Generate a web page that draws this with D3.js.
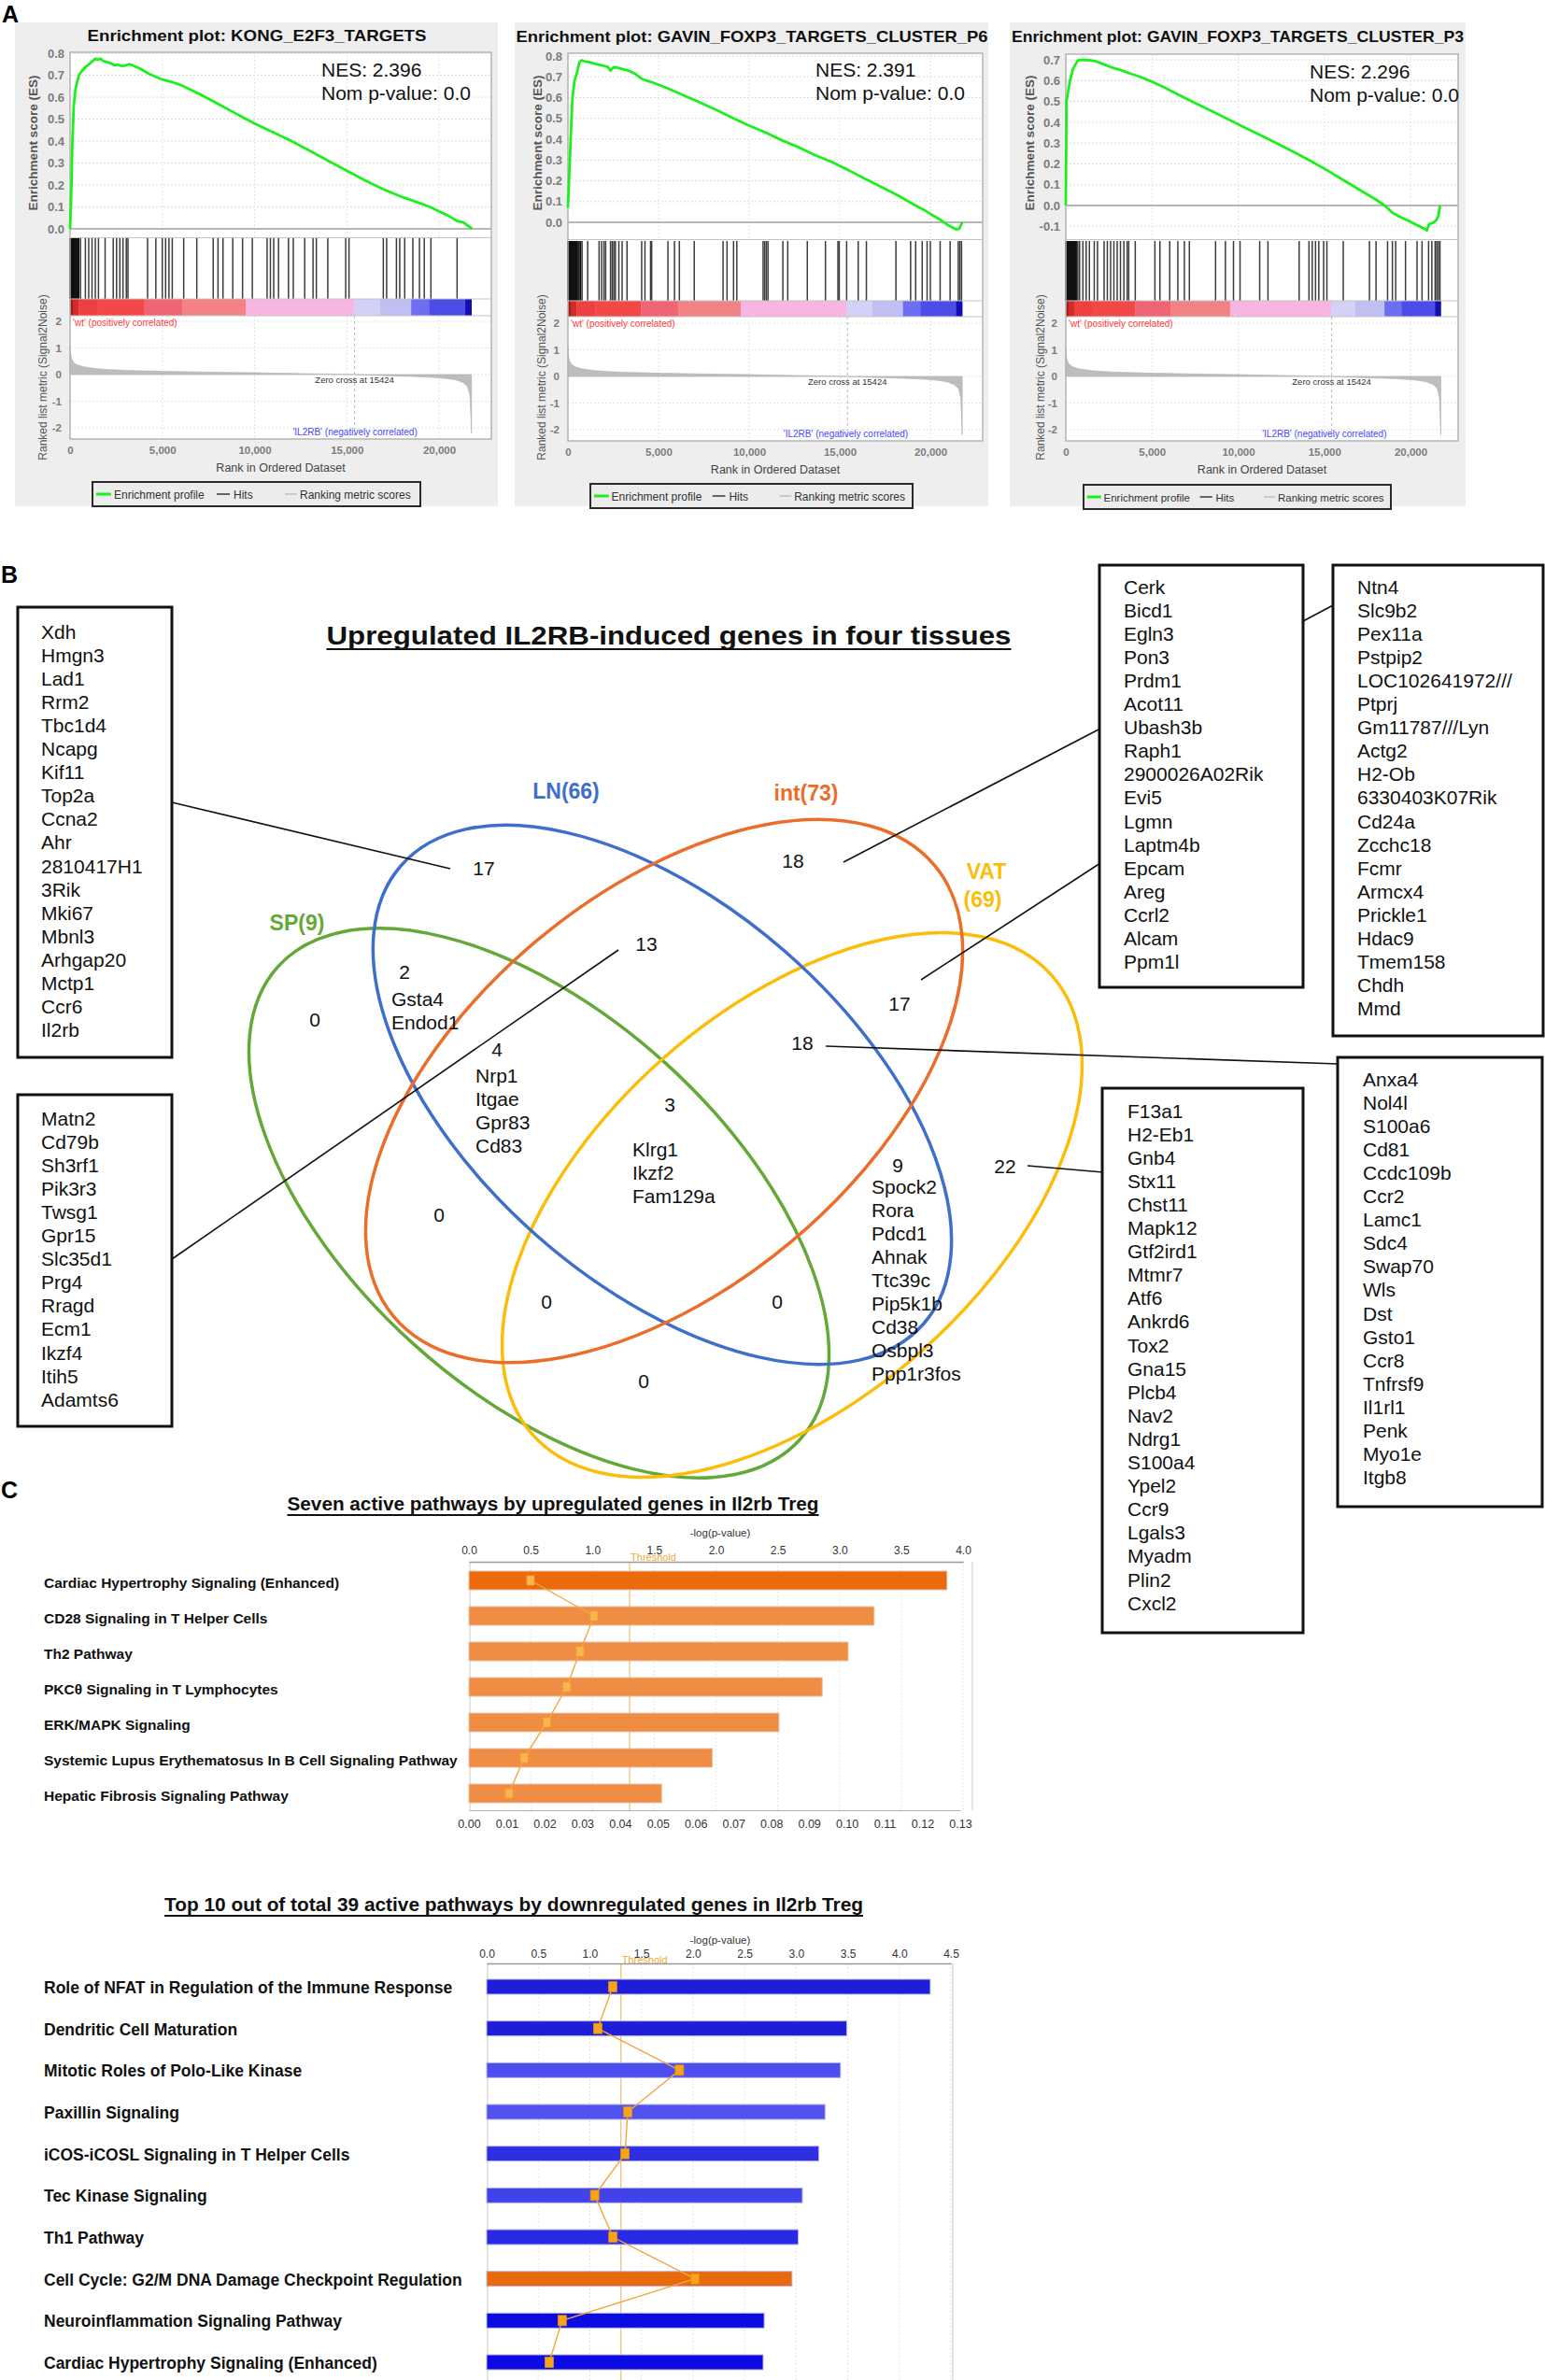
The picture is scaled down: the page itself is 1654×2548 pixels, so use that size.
<!DOCTYPE html>
<html><head><meta charset="utf-8"><title>IL2RB Treg figure</title>
<script src="https://cdn.jsdelivr.net/npm/d3@7/dist/d3.min.js"></script>
<style>
html,body{margin:0;padding:0;background:#fff;}
svg{display:block;}
</style></head><body>
<svg id="fig" width="1654" height="2548" viewBox="0 0 1654 2548"></svg>
<script>
// ======================= DATA =======================
// ---- Panel A: GSEA ----
const gseaSets = ["KONG_E2F3_TARGETS", "GAVIN_FOXP3_TARGETS_CLUSTER_P6", "GAVIN_FOXP3_TARGETS_CLUSTER_P3"];
const gseaNES = ["2.396", "2.391", "2.296"];
const gseaNomP = ["0.0", "0.0", "0.0"];
const esTicksKONG = [0, 0.1, 0.2, 0.3, 0.4, 0.5, 0.6, 0.7, 0.8];
const esTicksP6 = [0, 0.1, 0.2, 0.3, 0.4, 0.5, 0.6, 0.7, 0.8];
const esTicksP3 = [-0.1, 0, 0.1, 0.2, 0.3, 0.4, 0.5, 0.6, 0.7];
const rankTicks = [0, 5000, 10000, 15000, 20000];
const metricTicks = [2, 1, 0, -1, -2];
const zeroCross = 15424;
const esCurveKONG = [[0,0],[30,0.08],[80,0.2],[120,0.38],[200,0.56],[300,0.64],[480,0.70],[650,0.72],[830,0.737],[1100,0.755],[1370,0.775],[1500,0.77],[1650,0.775],[1800,0.765],[2000,0.76],[2200,0.755],[2400,0.745],[2600,0.748],[2800,0.742],[3000,0.744],[3200,0.75],[3400,0.745],[3800,0.73],[4300,0.705],[5000,0.68],[5500,0.67],[6000,0.655],[6500,0.635],[7000,0.615],[8000,0.57],[9000,0.525],[10000,0.48],[11000,0.44],[12000,0.40],[13000,0.355],[14000,0.31],[15000,0.265],[16000,0.22],[17000,0.18],[18000,0.145],[18700,0.125],[19500,0.10],[20000,0.08],[20500,0.06],[21000,0.035],[21300,0.03],[21800,0.0]];
const esCurveP6 = [[0,0.07],[60,0.2],[150,0.4],[250,0.6],[360,0.68],[500,0.72],[630,0.77],[750,0.78],[900,0.775],[1200,0.77],[1500,0.762],[1900,0.755],[2200,0.748],[2350,0.73],[2500,0.745],[2700,0.745],[3000,0.738],[3350,0.73],[3700,0.715],[4070,0.69],[4600,0.675],[5500,0.645],[6400,0.61],[7330,0.575],[8200,0.54],[9140,0.5],[10000,0.465],[10950,0.43],[11800,0.395],[12760,0.36],[13600,0.325],[14570,0.29],[15500,0.25],[16380,0.21],[17300,0.17],[18190,0.13],[19000,0.09],[19640,0.06],[20200,0.03],[20600,0.01],[21000,-0.015],[21270,-0.027],[21450,-0.035],[21600,-0.03],[21650,-0.02],[21770,0.0]];
const esCurveP3 = [[0,0],[40,0.5],[230,0.595],[420,0.657],[700,0.697],[1000,0.70],[1460,0.697],[1840,0.69],[2200,0.678],[2600,0.665],[3200,0.65],[3745,0.634],[4320,0.618],[5000,0.595],[5650,0.57],[6600,0.53],[7550,0.49],[8500,0.452],[9450,0.413],[10400,0.374],[11350,0.335],[12300,0.296],[13250,0.256],[14200,0.214],[15150,0.17],[16100,0.122],[17050,0.075],[18000,0.028],[18500,0.0],[18950,-0.035],[19400,-0.055],[19900,-0.074],[20400,-0.095],[20850,-0.113],[20950,-0.12],[21080,-0.09],[21330,-0.082],[21500,-0.07],[21620,-0.05],[21710,0.0]];
const hitsKONG = [0,15,30,45,60,80,100,120,140,165,190,215,245,275,310,350,390,430,470,570,830,1010,1190,1370,1540,1900,2340,2520,2700,2870,3050,3140,4200,4650,5000,5180,5360,5540,6160,6870,7760,8020,8290,8820,9350,9880,10680,10860,11040,11300,11840,12100,12720,13170,13350,13970,14940,15120,16980,17160,17690,17870,18140,18580,18940,19200,19560,20980];
const hitsP6 = [0,20,40,60,80,105,130,160,190,220,260,300,340,390,440,500,560,620,700,780,1090,1720,1860,1990,2080,2350,2440,2530,2620,2810,2990,3260,4070,4250,4560,4620,5520,5880,6150,6970,8560,8780,9140,9320,10770,10860,10950,11040,11860,12130,13210,14210,14900,14970,15380,16020,16470,18100,18910,19190,19550,19820,20000,20540,21090,21540,21630,21720];
const hitsP3 = [0,20,40,60,80,100,125,150,180,210,240,280,320,360,410,460,520,580,640,700,800,990,1180,1370,1650,1840,2220,2410,2600,2790,2980,3170,3370,3560,3650,4030,5170,5460,6030,6500,6880,7170,8690,9260,9730,10110,11250,11730,13540,14110,14300,14490,14680,14960,15150,16100,17620,18000,18670,18950,19140,19710,20380,20670,21050,21240,21430,21520,21620,21710];
const rankedMetric = [[0,1.1],[30,0.8],[80,0.6],[200,0.45],[400,0.36],[700,0.3],[1000,0.26],[1500,0.22],[2000,0.19],[3000,0.16],[4000,0.14],[5000,0.12],[6000,0.11],[7000,0.1],[8000,0.09],[9000,0.08],[10000,0.07],[11000,0.055],[12000,0.045],[13000,0.03],[14000,0.02],[15424,0],[16500,-0.03],[17500,-0.05],[18500,-0.07],[19500,-0.1],[20300,-0.14],[20900,-0.2],[21300,-0.3],[21550,-0.45],[21680,-0.8],[21720,-1.5],[21760,-2.2],[21760,0]];
const rankBandEdges = [0,150,480,1500,4030,6070,9530,15390,16800,18490,19470,21420,21760];
const legendItems = ["Enrichment profile", "Hits", "Ranking metric scores"];

// ---- Panel B: Venn ----
const vennTitle = "Upregulated IL2RB-induced genes in four tissues";
const vennSets = ["LN(66)", "int(73)", "VAT", "(69)", "SP(9)"];
const vennCounts = [17, 18, 13, 2, 0, 4, 3, 17, 18, 9, 22, 0, 0, 0, 0];
const vennRegionGenes = [[], [], [], ["Gsta4","Endod1"], [], ["Nrp1","Itgae","Gpr83","Cd83"], ["Klrg1","Ikzf2","Fam129a"], [], [], ["Spock2","Rora","Pdcd1","Ahnak","Ttc39c","Pip5k1b","Cd38","Osbpl3","Ppp1r3fos"], [], [], [], [], []];
const genesLN17 = ["Xdh","Hmgn3","Lad1","Rrm2","Tbc1d4","Ncapg","Kif11","Top2a","Ccna2","Ahr","2810417H1","3Rik","Mki67","Mbnl3","Arhgap20","Mctp1","Ccr6","Il2rb"];
const genesLNint13 = ["Matn2","Cd79b","Sh3rf1","Pik3r3","Twsg1","Gpr15","Slc35d1","Prg4","Rragd","Ecm1","Ikzf4","Itih5","Adamts6"];
const genesInt18 = ["Cerk","Bicd1","Egln3","Pon3","Prdm1","Acot11","Ubash3b","Raph1","2900026A02Rik","Evi5","Lgmn","Laptm4b","Epcam","Areg","Ccrl2","Alcam","Ppm1l"];
const genesIntVat17 = ["Ntn4","Slc9b2","Pex11a","Pstpip2","LOC102641972///","Ptprj","Gm11787///Lyn","Actg2","H2-Ob","6330403K07Rik","Cd24a","Zcchc18","Fcmr","Armcx4","Prickle1","Hdac9","Tmem158","Chdh","Mmd"];
const genesLnIntVat18 = ["Anxa4","Nol4l","S100a6","Cd81","Ccdc109b","Ccr2","Lamc1","Sdc4","Swap70","Wls","Dst","Gsto1","Ccr8","Tnfrsf9","Il1rl1","Penk","Myo1e","Itgb8"];
const genesVat22 = ["F13a1","H2-Eb1","Gnb4","Stx11","Chst11","Mapk12","Gtf2ird1","Mtmr7","Atf6","Ankrd6","Tox2","Gna15","Plcb4","Nav2","Ndrg1","S100a4","Ypel2","Ccr9","Lgals3","Myadm","Plin2","Cxcl2"];

// ---- Panel C: pathways ----
const upTitle = "Seven active pathways by upregulated genes in Il2rb Treg";
const upPathways = ["Cardiac Hypertrophy Signaling (Enhanced)","CD28 Signaling in T Helper Cells","Th2 Pathway","PKCθ Signaling in T Lymphocytes","ERK/MAPK Signaling","Systemic Lupus Erythematosus In B Cell Signaling Pathway","Hepatic Fibrosis Signaling Pathway"];
const upLogP = [3.87, 3.28, 3.07, 2.86, 2.51, 1.97, 1.56];
const upRatio = [0.0163, 0.0331, 0.0294, 0.0259, 0.0206, 0.0146, 0.0106];
const upLogTicks = [0, 0.5, 1, 1.5, 2, 2.5, 3, 3.5, 4];
const upRatioTicks = [0, 0.01, 0.02, 0.03, 0.04, 0.05, 0.06, 0.07, 0.08, 0.09, 0.10, 0.11, 0.12, 0.13];
const downTitle = "Top 10 out of total 39 active pathways by downregulated genes in Il2rb Treg";
const downPathways = ["Role of NFAT in Regulation of the Immune Response","Dendritic Cell Maturation","Mitotic Roles of Polo-Like Kinase","Paxillin Signaling","iCOS-iCOSL Signaling in T Helper Cells","Tec Kinase Signaling","Th1 Pathway","Cell Cycle: G2/M DNA Damage Checkpoint Regulation","Neuroinflammation Signaling Pathway","Cardiac Hypertrophy Signaling (Enhanced)"];
const downLogP = [4.30, 3.49, 3.43, 3.28, 3.22, 3.06, 3.02, 2.96, 2.69, 2.68];
const downRatio = [0.0407, 0.0359, 0.0623, 0.0456, 0.0447, 0.0349, 0.0408, 0.0673, 0.0244, 0.0202];
const downLogTicks = [0, 0.5, 1, 1.5, 2, 2.5, 3, 3.5, 4, 4.5];
const threshold = 1.301;

// ======================= LAYOUT / STYLE =======================
const FONT = "'Liberation Sans', Arial, Helvetica, sans-serif";
const svg = d3.select("#fig").attr("font-family", FONT);
svg.append("rect").attr("width", 1654).attr("height", 2548).attr("fill", "#fff");

const bandColors = ["#a51a1a","#d42a2a","#ee4040","#f24848","#f06474","#f38284","#f7b6e2","#d2d2f8","#c0bff4","#6e6ef2","#4c4ce6","#1010b0"];
const esCurves = [esCurveKONG, esCurveP6, esCurveP3];
const esTicksAll = [esTicksKONG, esTicksP6, esTicksP3];
const hitsAll = [hitsKONG, hitsP6, hitsP3];
const gseaLayout = [
  {bx:16,bw:517,L:75,x20:470,R:526,top:56,es0:245,refV:0.8,refY:57,esBot:254,hitTop:255,hitBot:320,barBot:338,mHi:344,mLo:458,bot:470,titleX:275,titleY:44,titleW:363,nesX:344,nesY:82,yt1X:35,yt2X:46,legX:99,legW:351,legY:516},
  {bx:551,bw:507,L:608,x20:996,R:1052,top:57,es0:238,refV:0.8,refY:60,esBot:256,hitTop:258,hitBot:322,barBot:339,mHi:346,mLo:460,bot:472,titleX:805,titleY:45,titleW:505,nesX:873,nesY:82,yt1X:575,yt2X:580,legX:632,legW:345,legY:518},
  {bx:1081,bw:488,L:1141,x20:1510,R:1561,top:58,es0:220,refV:0.7,refY:64,esBot:256,hitTop:258,hitBot:322,barBot:339,mHi:346,mLo:460,bot:472,titleX:1325,titleY:45,titleW:484,nesX:1402,nesY:84,yt1X:1102,yt2X:1114,legX:1160,legW:329,legY:519}
];

function styleAxis(sel, fs, fw, fill) {
  sel.attr("font-family", FONT).attr("font-size", fs);
  sel.select(".domain").remove();
  sel.selectAll("line").remove();
  sel.selectAll("text").attr("fill", fill).attr("font-weight", fw);
}

function drawGsea(i) {
  const P = gseaLayout[i];
  const g = svg.append("g");
  g.append("rect").attr("x", P.bx).attr("y", 24).attr("width", P.bw).attr("height", 518).attr("fill", "#eeeeee");
  g.append("text").attr("x", P.titleX).attr("y", P.titleY).attr("text-anchor", "middle")
    .attr("font-size", 17).attr("font-weight", "bold").attr("fill", "#111")
    .attr("textLength", P.titleW).attr("lengthAdjust", "spacingAndGlyphs")
    .text("Enrichment plot: " + gseaSets[i]);

  const x = d3.scaleLinear().domain([0, 20000]).range([P.L, P.x20]);
  const yE = d3.scaleLinear().domain([0, P.refV]).range([P.es0, P.refY]);
  const yM = d3.scaleLinear().domain([-2, 2]).range([P.mLo, P.mHi]);

  g.append("rect").attr("x", P.L).attr("y", P.top).attr("width", P.R - P.L).attr("height", P.bot - P.top).attr("fill", "#fff");
  // grids
  g.selectAll(null).data(esTicksAll[i]).join("line")
    .attr("x1", P.L).attr("x2", P.R).attr("y1", d => yE(d)).attr("y2", d => yE(d))
    .attr("stroke", "#dcdcdc").attr("stroke-dasharray", "2,2");
  g.selectAll(null).data(metricTicks).join("line")
    .attr("x1", P.L).attr("x2", P.R).attr("y1", d => yM(d)).attr("y2", d => yM(d))
    .attr("stroke", "#e2e2e2").attr("stroke-dasharray", "2,2");
  g.selectAll(null).data(rankTicks.slice(1)).join("line")
    .attr("x1", d => x(d)).attr("x2", d => x(d)).attr("y1", P.top).attr("y2", P.esBot)
    .attr("stroke", "#e2e2e2").attr("stroke-dasharray", "2,2");
  g.selectAll(null).data(rankTicks.slice(1)).join("line")
    .attr("x1", d => x(d)).attr("x2", d => x(d)).attr("y1", P.barBot).attr("y2", P.bot)
    .attr("stroke", "#e2e2e2").attr("stroke-dasharray", "2,2");
  // ES zero line
  g.append("line").attr("x1", P.L).attr("x2", P.R).attr("y1", yE(0)).attr("y2", yE(0)).attr("stroke", "#a0a0a0").attr("stroke-width", 1.5);
  // hits
  g.selectAll(null).data(hitsAll[i]).join("line")
    .attr("x1", d => x(d)).attr("x2", d => x(d)).attr("y1", P.hitTop).attr("y2", P.hitBot)
    .attr("stroke", (d, k) => k < 19 ? "#111" : "#3c3c3c").attr("stroke-width", 1.5);
  // rank colour bar
  const bands = d3.pairs(rankBandEdges);
  g.selectAll(null).data(bands).join("rect")
    .attr("x", d => x(d[0])).attr("width", d => x(d[1]) - x(d[0]) + 0.3)
    .attr("y", P.hitBot).attr("height", P.barBot - P.hitBot)
    .attr("fill", (d, k) => bandColors[k]);
  // ranked metric area
  g.append("path").datum(rankedMetric)
    .attr("d", d3.area().x(d => x(d[0])).y0(yM(0)).y1(d => yM(d[1])))
    .attr("fill", "#bdbdbd").attr("stroke", "#b0b0b0").attr("stroke-width", 0.6);
  // zero cross
  g.append("line").attr("x1", x(zeroCross)).attr("x2", x(zeroCross)).attr("y1", P.barBot).attr("y2", P.bot)
    .attr("stroke", "#b8b8b8").attr("stroke-dasharray", "3,3");
  g.append("text").attr("x", x(zeroCross)).attr("y", yM(0) + 9).attr("text-anchor", "middle")
    .attr("font-size", 9.5).attr("fill", "#333").text("Zero cross at " + zeroCross);
  g.append("text").attr("x", P.L + 3).attr("y", P.barBot + 11).attr("font-size", 10).attr("fill", "#ff3a3a")
    .text("'wt' (positively correlated)");
  g.append("text").attr("x", x(21760) - 58).attr("y", P.mLo + 8).attr("text-anchor", "end").attr("font-size", 10).attr("fill", "#4646ff")
    .text("'IL2RB' (negatively correlated)");
  // separators + border
  [P.esBot + 0.5, P.hitBot, P.barBot].forEach(yy => g.append("line").attr("x1", P.L).attr("x2", P.R).attr("y1", yy).attr("y2", yy).attr("stroke", "#c4c4c4"));
  g.append("rect").attr("x", P.L).attr("y", P.top).attr("width", P.R - P.L).attr("height", P.bot - P.top)
    .attr("fill", "none").attr("stroke", "#b4b4b4").attr("stroke-width", 1.5);
  // ES curve
  g.append("path").datum(esCurves[i])
    .attr("d", d3.line().x(d => x(d[0])).y(d => yE(d[1])))
    .attr("fill", "none").attr("stroke", "#1cf01c").attr("stroke-width", 2.8).attr("stroke-linejoin", "round");
  // axes
  g.append("g").attr("transform", `translate(${P.L},0)`)
    .call(d3.axisLeft(yE).tickValues(esTicksAll[i]).tickFormat(d => d3.format(".1f")(d).replace("−", "-")).tickSize(0).tickPadding(6))
    .call(s => styleAxis(s, 13, "bold", "#7c7c7c"));
  g.append("g").attr("transform", `translate(${P.L},0)`)
    .call(d3.axisLeft(yM).tickValues(metricTicks).tickFormat(d => String(d)).tickSize(0).tickPadding(9))
    .call(s => styleAxis(s, 11.5, "bold", "#7c7c7c"));
  g.append("g").attr("transform", `translate(0,${P.bot})`)
    .call(d3.axisBottom(x).tickValues(rankTicks).tickFormat(d3.format(",")).tickSize(0).tickPadding(8))
    .call(s => styleAxis(s, 11.5, "bold", "#7c7c7c"));
  g.append("text").attr("x", (P.L + P.R) / 2).attr("y", P.bot + 35).attr("text-anchor", "middle")
    .attr("font-size", 12.5).attr("fill", "#444").text("Rank in Ordered Dataset");
  g.append("text").attr("transform", `translate(${P.yt1X},153) rotate(-90)`).attr("text-anchor", "middle")
    .attr("dominant-baseline", "central").attr("font-size", 13.5).attr("font-weight", "bold").attr("fill", "#555")
    .text("Enrichment score (ES)");
  g.append("text").attr("transform", `translate(${P.yt2X},404) rotate(-90)`).attr("text-anchor", "middle")
    .attr("dominant-baseline", "central").attr("font-size", 12).attr("fill", "#555")
    .text("Ranked list metric (Signal2Noise)");
  // NES
  g.append("text").attr("x", P.nesX).attr("y", P.nesY).attr("font-size", 21).attr("fill", "#111").text("NES: " + gseaNES[i]);
  g.append("text").attr("x", P.nesX).attr("y", P.nesY + 25).attr("font-size", 21).attr("fill", "#111").text("Nom p-value: " + gseaNomP[i]);
  // legend
  const s = P.legW / 351;
  const lg = g.append("g").attr("transform", `translate(${P.legX},${P.legY})`);
  lg.append("rect").attr("width", P.legW).attr("height", 26).attr("fill", "#ececec").attr("stroke", "#2a2a2a").attr("stroke-width", 2);
  const itemX = [[4, 20, 23], [133, 147, 151], [206, 219, 222]];
  const itemC = ["#1cf01c", "#555", "#c8c8c8"];
  legendItems.forEach((t, k) => {
    lg.append("line").attr("x1", itemX[k][0] * s).attr("x2", itemX[k][1] * s).attr("y1", 13).attr("y2", 13)
      .attr("stroke", itemC[k]).attr("stroke-width", k === 0 ? 3 : 1.8);
    lg.append("text").attr("x", itemX[k][2] * s).attr("y", 17.5).attr("font-size", 12 * Math.min(1, s + 0.02)).attr("fill", "#333").text(t);
  });
}
[0, 1, 2].forEach(drawGsea);

// panel letters
[["A", 2, 24], ["B", 1, 624], ["C", 1, 1604]].forEach(d =>
  svg.append("text").attr("x", d[1]).attr("y", d[2]).attr("font-size", 25).attr("font-weight", "bold").attr("fill", "#000").text(d[0]));

// ---------------- Panel B ----------------
function underlinedTitle(txt, cx, y, w, fs) {
  svg.append("text").attr("x", cx).attr("y", y).attr("text-anchor", "middle").attr("font-size", fs).attr("font-weight", "bold")
    .attr("fill", "#111").attr("textLength", w).attr("lengthAdjust", "spacingAndGlyphs").text(txt);
  svg.append("line").attr("x1", cx - w / 2).attr("x2", cx + w / 2).attr("y1", y + 5).attr("y2", y + 5).attr("stroke", "#111").attr("stroke-width", 1.8);
}
underlinedTitle(vennTitle, 716, 690, 733, 28);

const vennColors = ["#3d6fcb", "#ec6d2a", "#fcbd0a", "#fcbd0a", "#64a83a"];
const ellipses = [
  {cx: 577, cy: 1288, rx: 377, ry: 202, rot: 42.2, c: "#64a83a"},
  {cx: 848, cy: 1290, rx: 371, ry: 209, rot: -41.5, c: "#fcbd0a"},
  {cx: 709, cy: 1172, rx: 372, ry: 202, rot: 41.3, c: "#3d6fcb"},
  {cx: 711, cy: 1168, rx: 377, ry: 211, rot: -39.8, c: "#ec6d2a"}
];
svg.append("g").selectAll("ellipse").data(ellipses).join("ellipse")
  .attr("cx", 0).attr("cy", 0).attr("rx", d => d.rx).attr("ry", d => d.ry)
  .attr("transform", d => `translate(${d.cx},${d.cy}) rotate(${d.rot})`)
  .attr("fill", "none").attr("stroke", d => d.c).attr("stroke-width", 3.5);

const setLabelPos = [[606, 847], [863, 849], [1056, 933], [1052, 963], [318, 988]];
vennSets.forEach((t, k) => svg.append("text").attr("x", setLabelPos[k][0]).attr("y", setLabelPos[k][1])
  .attr("text-anchor", "middle").attr("dominant-baseline", "central").attr("font-size", 23).attr("font-weight", "bold")
  .attr("fill", vennColors[k]).text(t));

const regionPos = [[518,929],[849,921],[692,1010],[433,1040],[337,1091],[532,1123],[717,1182],[963,1074],[859,1116],[961,1247],[1076,1248],[470,1300],[585,1393],[832,1393],[689,1478]];
const regionGeneStart = {3: [419, 1069], 5: [509, 1151], 6: [677, 1230], 9: [933, 1270]};
vennCounts.forEach((n, k) => {
  svg.append("text").attr("x", regionPos[k][0]).attr("y", regionPos[k][1]).attr("text-anchor", "middle")
    .attr("dominant-baseline", "central").attr("font-size", 21).attr("fill", "#111").text(n);
  if (vennRegionGenes[k].length) {
    const st = regionGeneStart[k];
    vennRegionGenes[k].forEach((gname, j) => svg.append("text").attr("x", st[0]).attr("y", st[1] + j * 25)
      .attr("dominant-baseline", "central").attr("font-size", 21).attr("fill", "#111").text(gname));
  }
});

const connectors = [[[184,859],[482,930]],[[184,1348],[662,1017]],[[903,923],[1178,780]],[[986,1049],[1178,924]],[[884,1120],[1432,1139]],[[1100,1248],[1181,1255]],[[1395,665],[1427,648]]];
svg.append("g").selectAll("line").data(connectors).join("line")
  .attr("x1", d => d[0][0]).attr("y1", d => d[0][1]).attr("x2", d => d[1][0]).attr("y2", d => d[1][1])
  .attr("stroke", "#111").attr("stroke-width", 1.6);

const geneBoxes = [
  {genes: genesLN17, x: 19, y: 650, w: 165, h: 482, tx: 44, ty: 676},
  {genes: genesLNint13, x: 19, y: 1172, w: 165, h: 355, tx: 44, ty: 1197},
  {genes: genesInt18, x: 1177, y: 605, w: 218, h: 452, tx: 1203, ty: 628},
  {genes: genesIntVat17, x: 1427, y: 605, w: 225, h: 504, tx: 1453, ty: 628},
  {genes: genesLnIntVat18, x: 1432, y: 1132, w: 219, h: 481, tx: 1459, ty: 1155},
  {genes: genesVat22, x: 1180, y: 1165, w: 215, h: 583, tx: 1207, ty: 1189}
];
geneBoxes.forEach(b => {
  const gb = svg.append("g");
  gb.append("rect").attr("x", b.x).attr("y", b.y).attr("width", b.w).attr("height", b.h)
    .attr("fill", "#fff").attr("stroke", "#111").attr("stroke-width", 3);
  gb.selectAll("text").data(b.genes).join("text").attr("x", b.tx).attr("y", (d, j) => b.ty + j * 25.1)
    .attr("dominant-baseline", "central").attr("font-size", 21).attr("fill", "#111").text(d => d);
});

// ---------------- Panel C ----------------
function drawPathways(cfg, names, logp, ratio, colors, title, logTicks) {
  underlinedTitle(title, cfg.titleX, cfg.titleY, cfg.titleW, 21);
  const x = d3.scaleLinear().domain([0, logTicks[logTicks.length - 1]]).range(cfg.xr);
  const r = d3.scaleLinear().domain(cfg.ratioD).range(cfg.ratioR);
  const y = d3.scalePoint().domain(names).range(cfg.yr);
  const g = svg.append("g");
  // plot frame
  g.append("line").attr("x1", cfg.boxL).attr("x2", cfg.boxL).attr("y1", cfg.top).attr("y2", cfg.bot).attr("stroke", "#c8c8c8");
  g.append("line").attr("x1", cfg.boxR).attr("x2", cfg.boxR).attr("y1", cfg.top).attr("y2", cfg.bot).attr("stroke", "#c8c8c8");
  g.selectAll(null).data(logTicks.slice(1)).join("line")
    .attr("x1", d => x(d)).attr("x2", d => x(d)).attr("y1", cfg.top).attr("y2", cfg.bot)
    .attr("stroke", "#e4e4e4").attr("stroke-dasharray", "2,2");
  // threshold
  g.append("line").attr("x1", x(threshold)).attr("x2", x(threshold)).attr("y1", cfg.top).attr("y2", cfg.bot)
    .attr("stroke", "#f4c27c").attr("stroke-width", 1.3);
  g.append("text").attr("x", x(threshold) + 1).attr("y", cfg.thrY).attr("font-size", 11).attr("fill", "#f0a838").text("Threshold");
  // bars
  g.selectAll(null).data(names).join("rect")
    .attr("x", x(0)).attr("y", d => y(d) - cfg.barH / 2)
    .attr("width", (d, k) => x(logp[k]) - x(0)).attr("height", cfg.barH)
    .attr("fill", (d, k) => colors[k]).attr("stroke", cfg.barStroke).attr("stroke-width", 1);
  // labels
  g.selectAll(null).data(names).join("text")
    .attr("x", cfg.labX).attr("y", d => y(d) + cfg.labDy).attr("dominant-baseline", "central")
    .attr("font-size", cfg.labFs).attr("font-weight", "bold").attr("fill", "#111").text(d => d);
  // ratio line + squares
  const pts = names.map((d, k) => [r(ratio[k]), y(d)]);
  g.append("path").datum(pts).attr("d", d3.line()).attr("fill", "none").attr("stroke", "#f2a640").attr("stroke-width", 1.4);
  g.selectAll(null).data(pts).join("rect")
    .attr("x", d => d[0] - cfg.sq / 2).attr("y", d => d[1] - cfg.sq / 2 - 1).attr("width", cfg.sq).attr("height", cfg.sq + 2)
    .attr("fill", cfg.sqFill).attr("stroke", cfg.sqStroke).attr("stroke-width", 0.8);
  // top axis
  g.append("g").attr("transform", `translate(0,${cfg.top})`)
    .call(d3.axisTop(x).tickValues(logTicks).tickFormat(d3.format(".1f")).tickSize(0).tickPadding(cfg.topPad))
    .call(s => { s.attr("font-family", FONT).attr("font-size", 12); s.selectAll("text").attr("fill", "#333");
      s.select(".domain").attr("stroke", "#9a9a9a").attr("stroke-width", 1.6); });
  g.append("text").attr("x", 771).attr("y", cfg.logLabY).attr("text-anchor", "middle").attr("font-size", 11.5).attr("fill", "#333").text("-log(p-value)");
  if (cfg.bottom) {
    g.append("g").attr("transform", `translate(0,${cfg.bot})`)
      .call(d3.axisBottom(r).tickValues(upRatioTicks).tickFormat(d3.format(".2f")).tickSize(0).tickPadding(10))
      .call(s => { s.attr("font-family", FONT).attr("font-size", 12.5); s.selectAll("text").attr("fill", "#333");
        s.select(".domain").attr("stroke", "#b0b0b0").attr("stroke-width", 1.2); });
  }
}
drawPathways({titleX: 592, titleY: 1617, titleW: 569, xr: [502, 1031], ratioD: [0, 0.13], ratioR: [502, 1028], top: 1672, bot: 1938,
  boxL: 503, boxR: 1041, yr: [1692, 1920], barH: 20, labX: 47, labFs: 15.5, labDy: 2, thrY: 1671, topPad: 8, logLabY: 1645,
  barStroke: "#e6c2a6", sq: 8, sqFill: "#f8b650", sqStroke: "#f3a030", bottom: true},
  upPathways, upLogP, upRatio, ["#ec6a0e","#f08d45","#f08d45","#f08d45","#f08d45","#f08d45","#f08d45"], upTitle, upLogTicks);
drawPathways({titleX: 550, titleY: 2046, titleW: 748, xr: [521, 1018], ratioD: [0, 0.15], ratioR: [521, 1018], top: 2102, bot: 2560,
  boxL: 522, boxR: 1020, yr: [2127, 2529], barH: 16, labX: 47, labFs: 17.5, labDy: 1, thrY: 2102, topPad: 6, logLabY: 2081,
  barStroke: "#b8b8f0", sq: 9, sqFill: "#f8a41a", sqStroke: "#d98a10", bottom: false},
  downPathways, downLogP, downRatio, ["#1e1ed8","#1e1ed8","#4e4ef0","#5252f0","#2e2ee2","#4242ea","#2a2ae6","#e96a0c","#0c0ce2","#0c0ce2"], downTitle, downLogTicks);
</script>
</body></html>
